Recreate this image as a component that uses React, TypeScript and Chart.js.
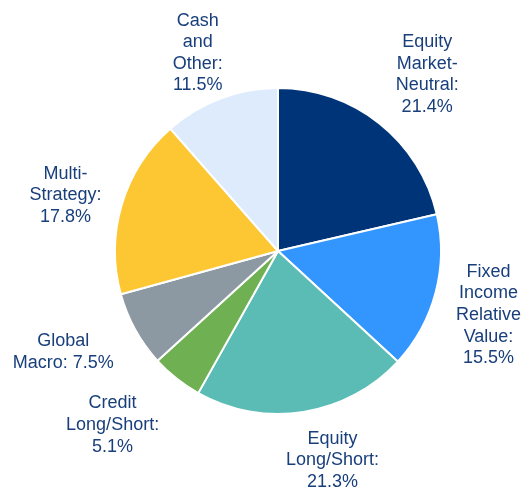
import React, { useEffect, useRef } from "react";
import { Chart, registerables } from "chart.js";

Chart.register(...registerables);

const categories: string[][] = [
  ["Equity", "Market-", "Neutral:"],
  ["Fixed", "Income", "Relative", "Value:"],
  ["Equity", "Long/Short:"],
  ["Credit", "Long/Short:"],
  ["Global", "Macro:"],
  ["Multi-", "Strategy:"],
  ["Cash", "and", "Other:"],
];
const values: number[] = [21.4, 15.5, 21.3, 5.1, 7.5, 17.8, 11.5];
const colors: string[] = ["#003479", "#3396FF", "#5BBCB6", "#6FB052", "#8C99A3", "#FDC633", "#DDEBFD"];
// whether the percentage goes on the same line as the last label line
const inlinePct: boolean[] = [false, false, false, false, true, false, false];
// small label nudges (px) applied after outside-end placement
const nudgeX: number[] = [5, 3, 21, -27, -17, -3, 0];
const nudgeY: number[] = [5, 9, -2, 0, -8, 7, 14.5];

const FONT_SIZE = 18;
const LINE_H = 21.6;
const TEXT_COLOR = "#183F7C";
const GAP = 18;

const labelPlugin = {
  id: "outLabels",
  afterDatasetsDraw(chart: any) {
    const ctx = chart.ctx;
    const meta = chart.getDatasetMeta(0);
    ctx.save();
    ctx.font = `${FONT_SIZE}px "Liberation Sans", Arial, sans-serif`;
    ctx.fillStyle = TEXT_COLOR;
    ctx.textAlign = "center";
    ctx.textBaseline = "middle";
    meta.data.forEach((arc: any, i: number) => {
      const { x, y, startAngle, endAngle, outerRadius } = arc.getProps(
        ["x", "y", "startAngle", "endAngle", "outerRadius"],
        true
      );
      const mid = (startAngle + endAngle) / 2;
      const ux = Math.cos(mid);
      const uy = Math.sin(mid);
      const pct = values[i].toFixed(1) + "%";
      const lines = categories[i].slice();
      if (inlinePct[i]) lines[lines.length - 1] = lines[lines.length - 1] + " " + pct;
      else lines.push(pct);
      const w = Math.max(...lines.map((l) => ctx.measureText(l).width)) / 2;
      const h = (lines.length * LINE_H) / 2;
      const d = Math.min(
        Math.abs(ux) > 1e-6 ? w / Math.abs(ux) : Infinity,
        Math.abs(uy) > 1e-6 ? h / Math.abs(uy) : Infinity
      );
      const dist = outerRadius + GAP + d;
      const cx = x + ux * dist + nudgeX[i];
      const cy = y + uy * dist + nudgeY[i];
      lines.forEach((l, k) => {
        ctx.fillText(l, cx, cy - h + LINE_H * (k + 0.5));
      });
    });
    ctx.restore();
  },
};

export default function App() {
  const ref = useRef<HTMLCanvasElement>(null);
  useEffect(() => {
    if (!ref.current) return;
    const chart = new Chart(ref.current, {
      type: "pie",
      data: {
        labels: categories.map((c) => c.join(" ")),
        datasets: [
          {
            data: values,
            backgroundColor: colors,
            borderColor: "#ffffff",
            borderWidth: 2,
          },
        ],
      },
      options: {
        animation: false,
        responsive: false,
        layout: { padding: { left: 114, right: 82, top: 87, bottom: 74 } },
        plugins: {
          legend: { display: false },
          tooltip: { enabled: false },
        },
      },
      plugins: [labelPlugin],
    });
    return () => chart.destroy();
  }, []);
  return (
    <div style={{ position: "fixed", left: 0, top: 0, width: 524, height: 489, background: "#fff" }}>
      <canvas ref={ref} width={524} height={489} style={{ display: "block" }} />
    </div>
  );
}
